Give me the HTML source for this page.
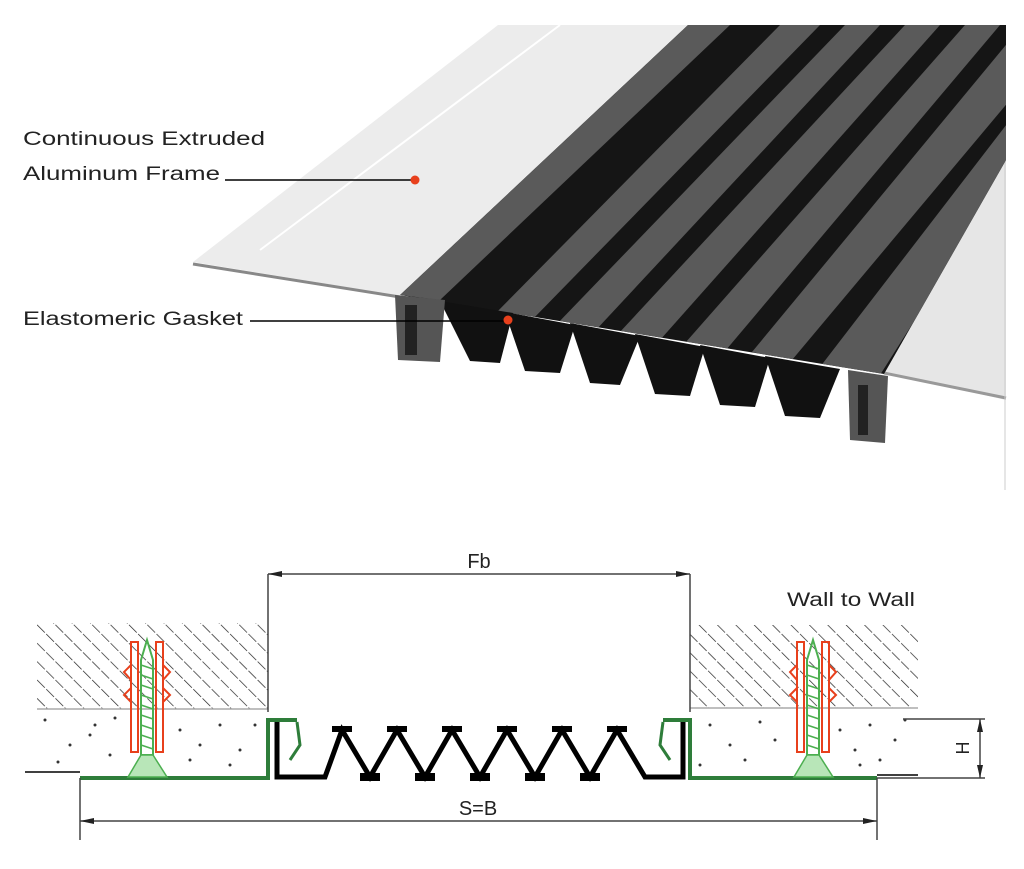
<!DOCTYPE html>
<html><head><meta charset="utf-8"><style>
html,body{margin:0;padding:0;background:#fff;}
svg{display:block;}
text{font-family:"Liberation Sans",sans-serif;}
</style></head><body>
<svg width="1024" height="869" viewBox="0 0 1024 869" xmlns="http://www.w3.org/2000/svg">
<defs>
<pattern id="hatch" width="13" height="26" patternUnits="userSpaceOnUse" patternTransform="rotate(-45)">
<line x1="0" y1="0" x2="0" y2="26" stroke="#222" stroke-width="1.4" stroke-dasharray="11,2"/>
</pattern>
<clipPath id="dark"><polygon points="400,295 688,25 1006,25 1006,160 884,374"/></clipPath>
</defs>

<!-- top product -->
<polygon points="193,262 498,25 688,25 400,296" fill="#ececec"/>
<line x1="193" y1="264" x2="400" y2="297" stroke="#888" stroke-width="3"/>
<line x1="260" y1="250" x2="560" y2="25" stroke="#fff" stroke-width="2"/>
<polygon points="1006,160 1006,400 884,372" fill="#e6e6e6"/>
<line x1="884" y1="373" x2="1006" y2="398" stroke="#999" stroke-width="3"/>
<line x1="1005" y1="160" x2="1005" y2="490" stroke="#ccc" stroke-width="1"/>
<polygon points="400,295 688,25 1006,25 1006,160 884,374" fill="#151515"/>
<g clip-path="url(#dark)" fill="#5a5a5a">
<polygon points="400,295 440,300 730,25 688,25"/>
<polygon points="492,317 530,322 820,25 780,25"/>
<polygon points="556,325 595,331 880,25 845,25"/>
<polygon points="619,333 660,340 940,25 905,25"/>
<polygon points="686,342 726,350 1000,25 965,25"/>
<polygon points="752,352 792,360 1010,100 1010,40"/>
<polygon points="820,367 880,375 1010,170 1010,120"/>
</g>
<!-- teeth -->
<g fill="#111">
<polygon points="440,301 513,313 500,363 470,361"/>
<polygon points="505,312 575,325 560,373 525,371"/>
<polygon points="570,323 640,336 620,385 590,383"/>
<polygon points="635,334 705,347 690,396 655,394"/>
<polygon points="700,345 770,358 755,407 720,405"/>
<polygon points="765,356 840,369 820,418 785,416"/>
</g>
<polygon points="395,295 445,300 440,362 398,360" fill="#555"/>
<rect x="405" y="305" width="12" height="50" fill="#222"/>
<polygon points="848,370 888,376 885,443 850,440" fill="#555"/>
<rect x="858" y="385" width="10" height="50" fill="#222"/>

<text x="23" y="145" font-size="19" fill="#222" textLength="242" lengthAdjust="spacingAndGlyphs">Continuous Extruded</text>
<text x="23" y="180" font-size="19" fill="#222" textLength="197" lengthAdjust="spacingAndGlyphs">Aluminum Frame</text>
<line x1="225" y1="180" x2="415" y2="180" stroke="#000" stroke-width="1.5"/>
<circle cx="415" cy="180" r="4.5" fill="#e8401c"/>
<text x="23" y="325" font-size="19" fill="#222" textLength="220" lengthAdjust="spacingAndGlyphs">Elastomeric Gasket</text>
<line x1="250" y1="321" x2="508" y2="321" stroke="#000" stroke-width="1.5"/>
<circle cx="508" cy="320" r="4.5" fill="#e8401c"/>

<!-- bottom section -->
<rect x="37" y="623" width="231" height="86" fill="url(#hatch)"/>
<rect x="690" y="625" width="228" height="83" fill="url(#hatch)"/>
<line x1="37" y1="709" x2="268" y2="709" stroke="#aaa" stroke-width="1.5"/>
<line x1="690" y1="708" x2="918" y2="708" stroke="#aaa" stroke-width="1.5"/>
<g fill="#333">
<circle cx="45" cy="720" r="1.5"/><circle cx="70" cy="745" r="1.5"/><circle cx="95" cy="725" r="1.5"/><circle cx="58" cy="762" r="1.5"/><circle cx="110" cy="755" r="1.5"/><circle cx="90" cy="735" r="1.5"/><circle cx="180" cy="730" r="1.5"/><circle cx="200" cy="745" r="1.5"/><circle cx="220" cy="725" r="1.5"/><circle cx="190" cy="760" r="1.5"/><circle cx="240" cy="750" r="1.5"/><circle cx="255" cy="725" r="1.5"/><circle cx="230" cy="765" r="1.5"/><circle cx="115" cy="718" r="1.5"/>
<circle cx="710" cy="725" r="1.5"/><circle cx="730" cy="745" r="1.5"/><circle cx="760" cy="722" r="1.5"/><circle cx="745" cy="760" r="1.5"/><circle cx="775" cy="740" r="1.5"/><circle cx="700" cy="765" r="1.5"/><circle cx="840" cy="730" r="1.5"/><circle cx="855" cy="750" r="1.5"/><circle cx="870" cy="725" r="1.5"/><circle cx="880" cy="760" r="1.5"/><circle cx="895" cy="740" r="1.5"/><circle cx="860" cy="765" r="1.5"/><circle cx="905" cy="720" r="1.5"/>
</g>
<!-- base lines -->
<line x1="25" y1="772" x2="80" y2="772" stroke="#000" stroke-width="1.5"/>
<line x1="877" y1="775" x2="918" y2="775" stroke="#000" stroke-width="1.5"/>
<!-- green plates -->
<path d="M80,778 L268,778 L268,720 L297,720" fill="none" stroke="#2e7d3a" stroke-width="4"/>
<path d="M297,722 L300,745 L290,760" fill="none" stroke="#2e7d3a" stroke-width="3"/>
<path d="M877,778 L690,778 L690,720 L663,720" fill="none" stroke="#2e7d3a" stroke-width="4"/>
<path d="M663,722 L660,745 L670,760" fill="none" stroke="#2e7d3a" stroke-width="3"/>
<!-- gasket zigzag -->
<path d="M277,722 L277,777 L325,777 L342,730 L370,777 L397,730 L425,777 L452,730 L480,777 L507,730 L535,777 L562,730 L590,777 L617,730 L645,777 L683,777 L683,722" fill="none" stroke="#000" stroke-width="5" stroke-linejoin="miter"/>
<g fill="#000">
<rect x="332" y="726" width="20" height="6"/><rect x="387" y="726" width="20" height="6"/><rect x="442" y="726" width="20" height="6"/><rect x="497" y="726" width="20" height="6"/><rect x="552" y="726" width="20" height="6"/><rect x="607" y="726" width="20" height="6"/>
<rect x="360" y="773" width="20" height="8"/><rect x="415" y="773" width="20" height="8"/><rect x="470" y="773" width="20" height="8"/><rect x="525" y="773" width="20" height="8"/><rect x="580" y="773" width="20" height="8"/>
</g>
<!-- anchors -->
<g id="anc">
<path d="M131,642 L138,642 L138,752 L131,752 Z M156,642 L163,642 L163,752 L156,752 Z" fill="none" stroke="#e8401c" stroke-width="2"/>
<path d="M131,665 L124,672 L131,680 M131,688 L124,695 L131,702 M163,665 L170,672 L163,680 M163,688 L170,695 L163,702" fill="none" stroke="#e8401c" stroke-width="2"/>
<path d="M141,660 L147,640 L153,660 L153,755 L141,755 Z" fill="none" stroke="#4caf50" stroke-width="2"/>
<path d="M141,665 L153,669 M141,675 L153,679 M141,685 L153,689 M141,695 L153,699 M141,705 L153,709 M141,715 L153,719 M141,725 L153,729 M141,735 L153,739 M141,745 L153,749" stroke="#4caf50" stroke-width="1.5"/>
<path d="M141,755 L128,777 L167,777 L153,755 Z" fill="#b8e6b8" stroke="#4caf50" stroke-width="1.5"/>
</g>
<use href="#anc" transform="translate(666,0)"/>
<!-- dimensions -->
<g stroke="#444" stroke-width="1.5" fill="none">
<line x1="268" y1="574" x2="268" y2="712"/>
<line x1="690" y1="574" x2="690" y2="712"/>
<line x1="268" y1="574" x2="690" y2="574"/>
<line x1="80" y1="778" x2="80" y2="840"/>
<line x1="877" y1="778" x2="877" y2="840"/>
<line x1="80" y1="821" x2="877" y2="821"/>
<line x1="903" y1="719" x2="985" y2="719"/>
<line x1="877" y1="778" x2="985" y2="778"/>
<line x1="980" y1="719" x2="980" y2="778"/>
</g>
<g fill="#222">
<polygon points="268,574 282,571 282,577"/><polygon points="690,574 676,571 676,577"/>
<polygon points="80,821 94,818 94,824"/><polygon points="877,821 863,818 863,824"/>
<polygon points="980,719 977,732 983,732"/><polygon points="980,778 977,765 983,765"/>
</g>
<text x="479" y="568" font-size="20" fill="#222" text-anchor="middle">Fb</text>
<text x="478" y="815" font-size="20" fill="#222" text-anchor="middle">S=B</text>
<text x="787" y="606" font-size="19" fill="#222" textLength="128" lengthAdjust="spacingAndGlyphs">Wall to Wall</text>
<text x="0" y="0" font-size="18" fill="#222" text-anchor="middle" transform="translate(969,748) rotate(-90)">H</text>
</svg>
</body></html>
